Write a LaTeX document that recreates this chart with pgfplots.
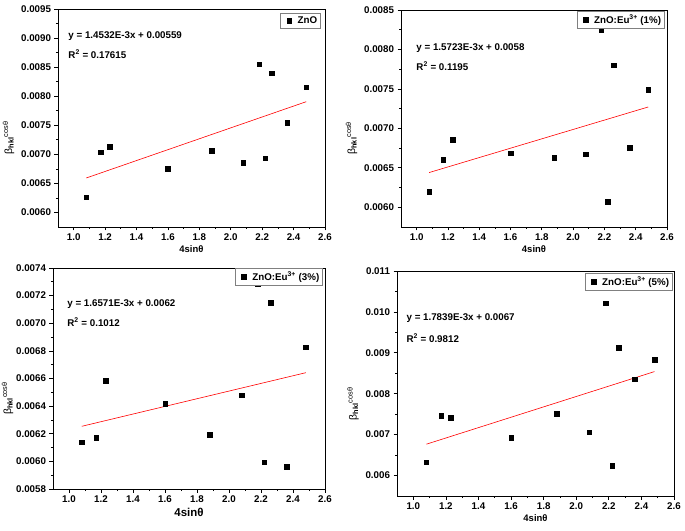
\documentclass[border=0pt]{standalone}
\usepackage{fontspec}
\setmainfont{Liberation Sans}
\usepackage{pgfplots}
\pgfplotsset{compat=1.18}

\pgfplotsset{
  panel/.style={
    scale only axis,
    xmin=0.9, xmax=2.6,
    xtick={1.0,1.2,1.4,1.6,1.8,2.0,2.2,2.4,2.6},
    minor x tick num=1,
    minor y tick num=1,
    tick align=outside,
    xtick pos=bottom, ytick pos=left,
    axis line style={line width=0.9bp},
    major tick length=3.5bp, minor tick length=2bp,
    every tick/.style={black, line width=0.7bp},
    scaled ticks=false,
    /pgf/number format/assume math mode=true,
    tick label style={font=\fontsize{9.8}{11}\selectfont\bfseries},
    xticklabel style={/pgf/number format/.cd, fixed, fixed zerofill, precision=1},
    xlabel={4sinθ},
    xlabel style={font=\fontsize{9.5}{10}\selectfont\bfseries, yshift=2bp},
    ylabel={β\textsubscript{\textbf{hkl}}\textsuperscript{cosθ}},
    ylabel style={font=\fontsize{10.5}{11}\selectfont, at={(ticklabel cs:0.41)}},
    legend cell align=left,
    legend style={draw=gray, line width=0.6bp, font=\fontsize{9.8}{11}\selectfont\bfseries,
      inner sep=1.5bp, row sep=0bp},
    legend image code/.code={\path (-0.05cm,0cm) (0.42cm,0cm); \draw plot coordinates {(0.2cm,0cm)};},
  },
  scat/.style={only marks, mark=square*, mark size=2.3bp, black},
  fit/.style={red, line width=0.6bp, forget plot},
}

\newcommand{\eqfont}{\fontsize{9.8}{11}\selectfont\bfseries}

\begin{document}
\begin{tikzpicture}
\useasboundingbox (0bp,0bp) rectangle (685bp,531bp);

% Panel 1: ZnO
\begin{axis}[panel, at={(58bp,304bp)}, anchor=south west, width=267bp, height=218bp,
  ymin=0.00575, ymax=0.0095,
  ytick={0.006,0.0065,0.007,0.0075,0.008,0.0085,0.009,0.0095},
  yticklabel style={/pgf/number format/.cd, fixed, fixed zerofill, precision=4},
  legend style={at={(0.985,0.982)}, anchor=north east}]
\addplot[fit] coordinates {(1.08,0.006593) (2.48,0.007905)};
\addplot[scat] coordinates {
(1.08,0.006265) (1.17,0.007036) (1.23,0.007128) (1.60,0.006754)
(1.88,0.00706) (2.08,0.006858) (2.18,0.00855) (2.22,0.006933)
(2.26,0.008395) (2.36,0.007549) (2.48,0.008153)};
\addlegendentry{ZnO}
\node[anchor=west, font=\eqfont] at (rel axis cs:0.026,0.876) {y = 1.4532E-3x + 0.00559};
\node[anchor=west, font=\eqfont] at (rel axis cs:0.026,0.794) {R\textsuperscript{2} = 0.17615};
\end{axis}

% Panel 2: ZnO:Eu 1%
\begin{axis}[panel, at={(401bp,304bp)}, anchor=south west, width=266bp, height=217bp,
  ymin=0.00575, ymax=0.0085,
  ytick={0.006,0.0065,0.007,0.0075,0.008,0.0085},
  yticklabel style={/pgf/number format/.cd, fixed, fixed zerofill, precision=4},
  legend style={at={(0.992,0.995)}, anchor=north east}]
\addplot[fit] coordinates {(1.08,0.00644) (2.48,0.007271)};
\addplot[scat] coordinates {
(1.08,0.0062) (1.17,0.0066) (1.23,0.00686) (1.60,0.006686)
(1.88,0.006627) (2.08,0.00667) (2.18,0.008254) (2.22,0.006072)
(2.26,0.0078) (2.36,0.006754) (2.48,0.007492)};
\addlegendentry{ZnO:Eu\textsuperscript{3+} (1\%)}
\node[anchor=west, font=\eqfont] at (rel axis cs:0.045,0.825) {y = 1.5723E-3x + 0.0058};
\node[anchor=west, font=\eqfont] at (rel axis cs:0.045,0.742) {R\textsuperscript{2} = 0.1195};
\end{axis}

% Panel 3: ZnO:Eu 3%
\begin{axis}[panel, at={(53bp,42bp)}, anchor=south west, width=272bp, height=221bp,
  ymin=0.0058, ymax=0.0074,
  ytick={0.0058,0.006,0.0062,0.0064,0.0066,0.0068,0.007,0.0072,0.0074},
  yticklabel style={/pgf/number format/.cd, fixed, fixed zerofill, precision=4},
  xlabel style={font=\fontsize{11.5}{12}\selectfont\bfseries},
  ylabel shift=-4bp,
  legend style={at={(0.993,1.0)}, anchor=north east}]
\addplot[fit] coordinates {(1.08,0.006254) (2.48,0.006642)};
\addplot[scat] coordinates {
(1.08,0.00614) (1.17,0.006172) (1.23,0.006584) (1.60,0.006418)
(1.88,0.006191) (2.08,0.006478) (2.18,0.007282) (2.22,0.005993)
(2.26,0.007149) (2.36,0.005962) (2.48,0.006828)};
\addlegendentry{ZnO:Eu\textsuperscript{3+} (3\%)}
\node[anchor=west, font=\eqfont] at (rel axis cs:0.04,0.837) {y = 1.6571E-3x + 0.0062};
\node[anchor=west, font=\eqfont] at (rel axis cs:0.04,0.756) {R\textsuperscript{2} = 0.1012};
\end{axis}

% Panel 4: ZnO:Eu 5%
\begin{axis}[panel, at={(397bp,35bp)}, anchor=south west, width=277bp, height=225bp,
  ymin=0.0055, ymax=0.011,
  ytick={0.006,0.007,0.008,0.009,0.010,0.011},
  yticklabel style={/pgf/number format/.cd, fixed, fixed zerofill, precision=3},
  legend style={at={(0.996,0.991)}, anchor=north east}]
\addplot[fit] coordinates {(1.08,0.006766) (2.48,0.008541)};
\addplot[scat] coordinates {
(1.08,0.006326) (1.17,0.007466) (1.23,0.007417) (1.60,0.006928)
(1.88,0.007507) (2.08,0.007059) (2.18,0.01021) (2.22,0.006244)
(2.26,0.009119) (2.36,0.008353) (2.48,0.008826)};
\addlegendentry{ZnO:Eu\textsuperscript{3+} (5\%)}
\node[anchor=west, font=\eqfont] at (rel axis cs:0.022,0.791) {y = 1.7839E-3x + 0.0067};
\node[anchor=west, font=\eqfont] at (rel axis cs:0.022,0.702) {R\textsuperscript{2} = 0.9812};
\end{axis}
\end{tikzpicture}
\end{document}
